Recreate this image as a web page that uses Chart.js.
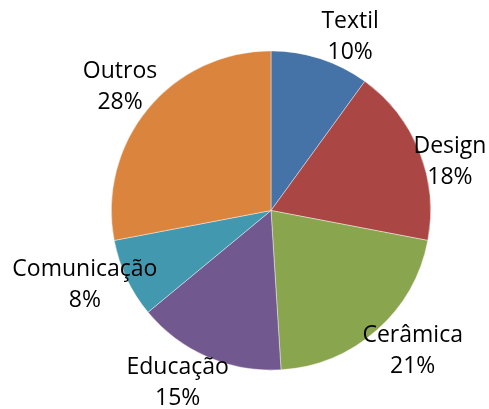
<!DOCTYPE html>
<html>
<head>
<meta charset="utf-8">
<script src="https://cdn.jsdelivr.net/npm/chart.js@4.4.1/dist/chart.umd.min.js"></script>
<style>
    html, body { margin: 0; padding: 0; background: #fff; }
    #wrap { width: 489px; height: 409px; }
</style>
</head>
<body>
<div id="wrap"><canvas id="pie"></canvas></div>
<script>
const categories = ['Textil', 'Design', 'Cerâmica', 'Educação', 'Comunicação', 'Outros'];
const shares = [10, 18, 21, 15, 8, 28];
const sliceColors = ['#4572A7', '#AA4643', '#89A54E', '#71588F', '#4198AF', '#DB843D'];

// small per-label nudges (px) to mimic the spreadsheet's label placement
const labelNudges = [[19, 12], [-2, 23], [13, -6], [-16, -6], [-10, -8], [-1, 1]];

const outsideLabels = {
    id: 'outsideLabels',
    afterDatasetsDraw(chart, args, opts) {
        const ctx = chart.ctx;
        const meta = chart.getDatasetMeta(0);
        const data = chart.data.datasets[0].data;
        const total = data.reduce((a, b) => a + b, 0);
        ctx.save();
        ctx.fillStyle = '#000';
        ctx.font = opts.font;
        ctx.textAlign = 'center';
        ctx.textBaseline = 'middle';
        meta.data.forEach((arc, i) => {
            const mid = (arc.startAngle + arc.endAngle) / 2;
            const dist = arc.outerRadius + opts.offset;
            const nudge = opts.nudges[i] || [0, 0];
            const x = arc.x + Math.cos(mid) * dist + nudge[0];
            const y = arc.y + Math.sin(mid) * dist + nudge[1];
            const pct = Math.round(data[i] / total * 100) + '%';
            ctx.fillText(chart.data.labels[i], x, y - opts.lineHeight / 2);
            ctx.fillText(pct, x, y + opts.lineHeight / 2);
        });
        ctx.restore();
    }
};

new Chart('pie', {
    type: 'pie',
    data: {
        labels: categories,
        datasets: [
            {
                data: shares,
                backgroundColor: sliceColors,
                borderColor: 'rgba(255,255,255,0.55)',
                borderWidth: 0.75
            }
        ]
    },
    options: {
        responsive: true,
        maintainAspectRatio: false,
        animation: false,
        layout: {
            padding: { left: 111, right: 58, top: 50, bottom: 38 }
        },
        plugins: {
            legend: { display: false },
            tooltip: { enabled: false },
            outsideLabels: {
                font: '23px "Open Sans"',
                lineHeight: 31,
                offset: 35,
                nudges: labelNudges
            }
        }
    },
    plugins: [outsideLabels]
});
</script>
</body>
</html>
